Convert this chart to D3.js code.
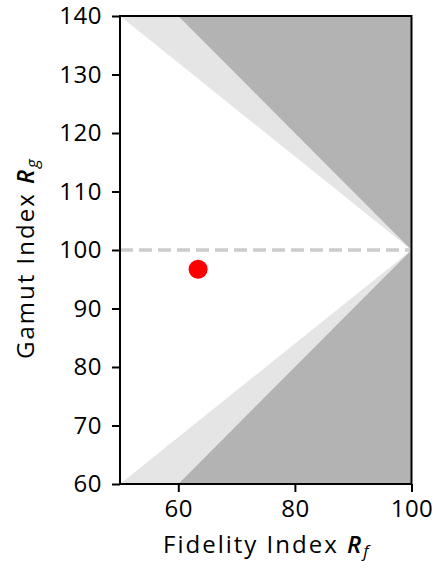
<!DOCTYPE html>
<html>
<head>
<meta charset="utf-8">
<script src="https://cdn.jsdelivr.net/npm/d3@7"></script>
<style>
  html, body { margin: 0; padding: 0; background: #fff; }
  svg { display: block; }
  text { font-family: "Open Sans", sans-serif; fill: #000; }
</style>
</head>
<body>
<div id="chart"></div>
<script>
// Axis extents and ticks
const xDomain = [50, 100];
const yDomain = [60, 140];
const xTicks = [60, 80, 100];
const yTicks = [60, 70, 80, 90, 100, 110, 120, 130, 140];

// Shaded zones (Rf, Rg vertices)
const lightZone = [[50, 140], [100, 100], [50, 60], [100, 60], [100, 140]];
const darkZone = [[60, 140], [100, 100], [60, 60], [100, 60], [100, 140]];

// Reference line at Rg = 100
const refLine = [[50, 100], [100, 100]];

// Measured source
const pointRf = [63.4];
const pointRg = [96.7];

const W = 443, H = 569;
const margin = { left: 120, top: 16, right: 31.5, bottom: 85 };
const iw = W - margin.left - margin.right;
const ih = H - margin.top - margin.bottom;

const svg = d3.select("#chart").append("svg")
  .attr("width", W).attr("height", H);

const x = d3.scaleLinear().domain(xDomain).range([0, iw]);
const y = d3.scaleLinear().domain(yDomain).range([ih, 0]);

const g = svg.append("g").attr("transform", `translate(${margin.left},${margin.top})`);

const line = d3.line().x(d => x(d[0])).y(d => y(d[1]));

g.append("path").datum(lightZone)
  .attr("d", d => line(d) + "Z")
  .attr("fill", "#e5e5e5");
g.append("path").datum(darkZone)
  .attr("d", d => line(d) + "Z")
  .attr("fill", "#b3b3b3");

g.append("path").datum(refLine)
  .attr("d", line)
  .attr("fill", "none")
  .attr("stroke", "#cccccc")
  .attr("stroke-width", 3.5)
  .attr("stroke-dasharray", "13,6");

g.selectAll("circle.pt").data(pointRf.map((v, i) => [v, pointRg[i]]))
  .enter().append("circle")
  .attr("cx", d => x(d[0])).attr("cy", d => y(d[1]))
  .attr("r", 9.5).attr("fill", "#ff0000");

// Frame
g.append("rect").attr("x", 0).attr("y", 0).attr("width", iw).attr("height", ih)
  .attr("fill", "none").attr("stroke", "#000").attr("stroke-width", 2);

const xAxis = g.append("g").attr("transform", `translate(0,${ih})`)
  .call(d3.axisBottom(x).tickValues(xTicks).tickSize(8).tickPadding(8).tickFormat(d3.format("d")));
const yAxis = g.append("g")
  .call(d3.axisLeft(y).tickValues(yTicks).tickSize(8).tickPadding(10).tickFormat(d3.format("d")));

[xAxis, yAxis].forEach(a => {
  a.select(".domain").remove();
  a.selectAll(".tick line").attr("stroke", "#000").attr("stroke-width", 2);
  a.selectAll(".tick text").attr("font-size", 24).attr("font-family", "'Open Sans', sans-serif")
    .attr("fill", "#000").attr("letter-spacing", 0.5);
});

// Axis titles
const xt = svg.append("text")
  .attr("x", margin.left + iw / 2 + 1).attr("y", 553)
  .attr("text-anchor", "middle").attr("font-size", 24).attr("letter-spacing", 2);
xt.append("tspan").text("Fidelity Index ");
xt.append("tspan").attr("font-style", "italic").attr("font-weight", 600).text("R");
xt.append("tspan").attr("font-style", "italic").attr("font-size", 17).attr("dy", 4).text("f");

const yt = svg.append("text")
  .attr("transform", `translate(34,${margin.top + ih / 2 + 8}) rotate(-90)`)
  .attr("text-anchor", "middle").attr("font-size", 24).attr("letter-spacing", 2);
yt.append("tspan").text("Gamut Index ");
yt.append("tspan").attr("font-style", "italic").attr("font-weight", 600).text("R");
yt.append("tspan").attr("font-style", "italic").attr("font-size", 17).attr("dy", 4).text("g");
</script>
</body>
</html>
